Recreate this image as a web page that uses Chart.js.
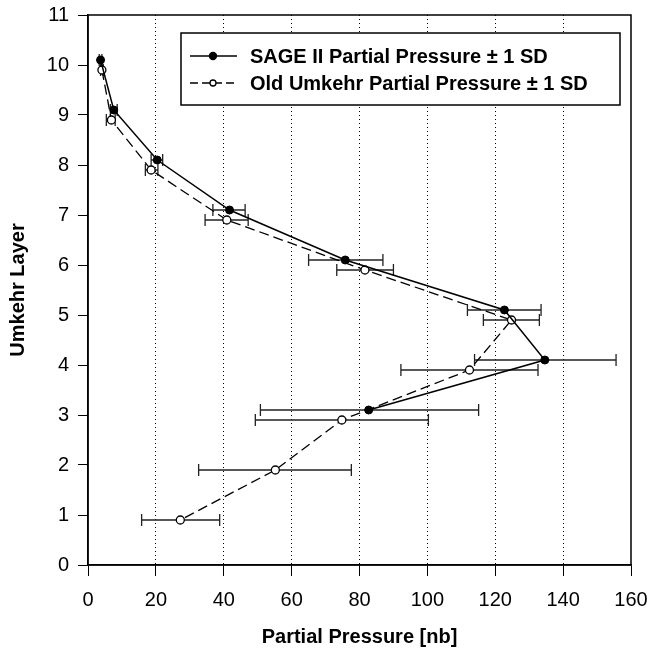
<!DOCTYPE html>
<html>
<head>
<meta charset="utf-8">
<script src="https://cdn.jsdelivr.net/npm/chart.js@4"></script>
<style>
  html, body { margin: 0; padding: 0; background: #fff; }
  #wrap { width: 650px; height: 649px; }
</style>
</head>
<body>
<div id="wrap"><canvas id="umkehr"></canvas></div>
<script>
// DATA: partial pressure per Umkehr layer (SAGE II vs old Umkehr), +/- 1 SD
var xTicks = [0, 20, 40, 60, 80, 100, 120, 140, 160];
var yTicks = [0, 1, 2, 3, 4, 5, 6, 7, 8, 9, 10, 11];

var sageLayer = [10.1, 9.1, 8.1, 7.1, 6.1, 5.1, 4.1, 3.1];
var sagePressure = [3.7, 7.6, 20.4, 41.7, 75.8, 122.7, 134.6, 82.7];
var sageLow = [3.3, 6.6, 18.6, 36.8, 65.0, 111.8, 113.9, 50.8];
var sageHigh = [4.1, 8.6, 22.0, 46.3, 86.9, 133.5, 155.6, 115.1];

var oldLayer = [9.9, 8.9, 7.9, 6.9, 5.9, 4.9, 3.9, 2.9, 1.9, 0.9];
var oldPressure = [4.1, 6.9, 18.6, 40.9, 81.6, 124.8, 112.4, 74.8, 55.2, 27.2];
var oldLow = [3.7, 5.4, 16.9, 34.5, 73.3, 116.5, 92.2, 49.3, 32.6, 15.8];
var oldHigh = [4.5, 8.0, 20.6, 47.2, 90.0, 133.0, 132.6, 100.3, 77.6, 38.8];

var legendLabels = ['SAGE II Partial Pressure \u00b1 1 SD', 'Old Umkehr Partial Pressure \u00b1 1 SD'];

function toPoints(xs, ys) {
  return xs.map(function (v, i) { return { x: v, y: ys[i] }; });
}

// barres d'erreur horizontales
var errorBars = {
  id: 'errorBars',
  beforeDatasetsDraw: function (chart) {
    var ctx = chart.ctx, x = chart.scales.x, y = chart.scales.y;
    ctx.save();
    chart.data.datasets.forEach(function (ds) {
      ctx.strokeStyle = '#222';
      ctx.lineWidth = 1.3;
      ds.data.forEach(function (p, i) {
        var py = y.getPixelForValue(p.y);
        var x1 = x.getPixelForValue(ds.errLow[i]);
        var x2 = x.getPixelForValue(ds.errHigh[i]);
        ctx.beginPath();
        ctx.moveTo(x1, py); ctx.lineTo(x2, py);
        ctx.moveTo(x1, py - 6); ctx.lineTo(x1, py + 6);
        ctx.moveTo(x2, py - 6); ctx.lineTo(x2, py + 6);
        ctx.stroke();
      });
    });
    // cadre
    var a = chart.chartArea;
    ctx.strokeStyle = '#000';
    ctx.lineWidth = 1.5;
    ctx.strokeRect(a.left, a.top, a.right - a.left, a.bottom - a.top);
    ctx.restore();
  }
};

// légende dans un cadre, en haut à droite
var boxLegend = {
  id: 'boxLegend',
  afterDraw: function (chart) {
    var ctx = chart.ctx;
    ctx.save();
    ctx.fillStyle = '#fff';
    ctx.fillRect(181, 33, 439, 72);
    ctx.strokeStyle = '#000';
    ctx.lineWidth = 1.5;
    ctx.strokeRect(181, 33, 439, 72);
    var rows = [56, 83];
    rows.forEach(function (ry, i) {
      ctx.beginPath();
      ctx.lineWidth = 1.3;
      ctx.setLineDash(i === 0 ? [] : [8, 4]);
      ctx.moveTo(190, ry); ctx.lineTo(237, ry);
      ctx.stroke();
      ctx.setLineDash([]);
      ctx.beginPath();
      ctx.arc(213, ry, i === 0 ? 3.5 : 3, 0, Math.PI * 2);
      ctx.fillStyle = i === 0 ? '#000' : '#fff';
      ctx.fill();
      ctx.stroke();
      ctx.fillStyle = '#000';
      ctx.font = 'bold 20px "Liberation Sans", Arial, sans-serif';
      ctx.textBaseline = 'middle';
      ctx.fillText(legendLabels[i], 250, ry + 1);
    });
    ctx.restore();
  }
};

var font = { family: '"Liberation Sans", Arial, sans-serif', size: 20 };

var ctx = document.getElementById('umkehr').getContext('2d');
var chart = new Chart(ctx, {
  type: 'scatter',
  data: {
    datasets: [{
      label: legendLabels[0],
      data: toPoints(sagePressure, sageLayer),
      errLow: sageLow,
      errHigh: sageHigh,
      showLine: true,
      borderColor: '#000',
      borderWidth: 1.5,
      pointRadius: 4,
      pointBackgroundColor: '#000',
      pointBorderColor: '#000',
      pointBorderWidth: 1
    }, {
      label: legendLabels[1],
      data: toPoints(oldPressure, oldLayer),
      errLow: oldLow,
      errHigh: oldHigh,
      showLine: true,
      borderColor: '#000',
      borderWidth: 1.3,
      borderDash: [10, 5],
      pointRadius: 4,
      pointBackgroundColor: '#fff',
      pointBorderColor: '#000',
      pointBorderWidth: 1.3
    }]
  },
  plugins: [errorBars, boxLegend],
  options: {
    responsive: true,
    maintainAspectRatio: false,
    animation: false,
    layout: { padding: { left: 0, right: 19, top: 15, bottom: 0 } },
    plugins: {
      legend: { display: false },
      tooltip: { enabled: false }
    },
    scales: {
      x: {
        type: 'linear',
        min: 0,
        max: 160,
        afterBuildTicks: function (s) { s.ticks = xTicks.map(function (v) { return { value: v }; }); },
        afterFit: function (s) { s.height = 649 - 565; s.paddingLeft = 0; s.paddingRight = 0; },
        border: { color: '#000', width: 1.5, dash: [1, 3] },
        grid: {
          color: function (c) { return (c.tick && (c.tick.value === 0 || c.tick.value === 160)) ? 'rgba(0,0,0,0)' : '#000'; },
          tickColor: '#000',
          lineWidth: 1,
          tickBorderDash: [],
          tickLength: 11
        },
        ticks: { color: '#000', font: font, padding: 12, maxRotation: 0 },
        title: {
          display: true,
          text: 'Partial Pressure [nb]',
          color: '#000',
          font: { family: font.family, size: 20, weight: 'bold' },
          padding: { top: 0, bottom: 0 }
        }
      },
      y: {
        type: 'linear',
        min: 0,
        max: 11,
        afterBuildTicks: function (s) { s.ticks = yTicks.map(function (v) { return { value: v }; }); },
        afterFit: function (s) { s.width = 88; s.paddingTop = 0; s.paddingBottom = 0; },
        border: { color: '#000', width: 1.5 },
        grid: { drawOnChartArea: false, tickColor: '#000', tickLength: 10 },
        ticks: { color: '#000', font: font, padding: 9 },
        title: {
          display: true,
          text: 'Umkehr Layer',
          color: '#000',
          font: { family: font.family, size: 20, weight: 'bold' },
          padding: { top: 6, bottom: 0 }
        }
      }
    }
  }
});
</script>
</body>
</html>
